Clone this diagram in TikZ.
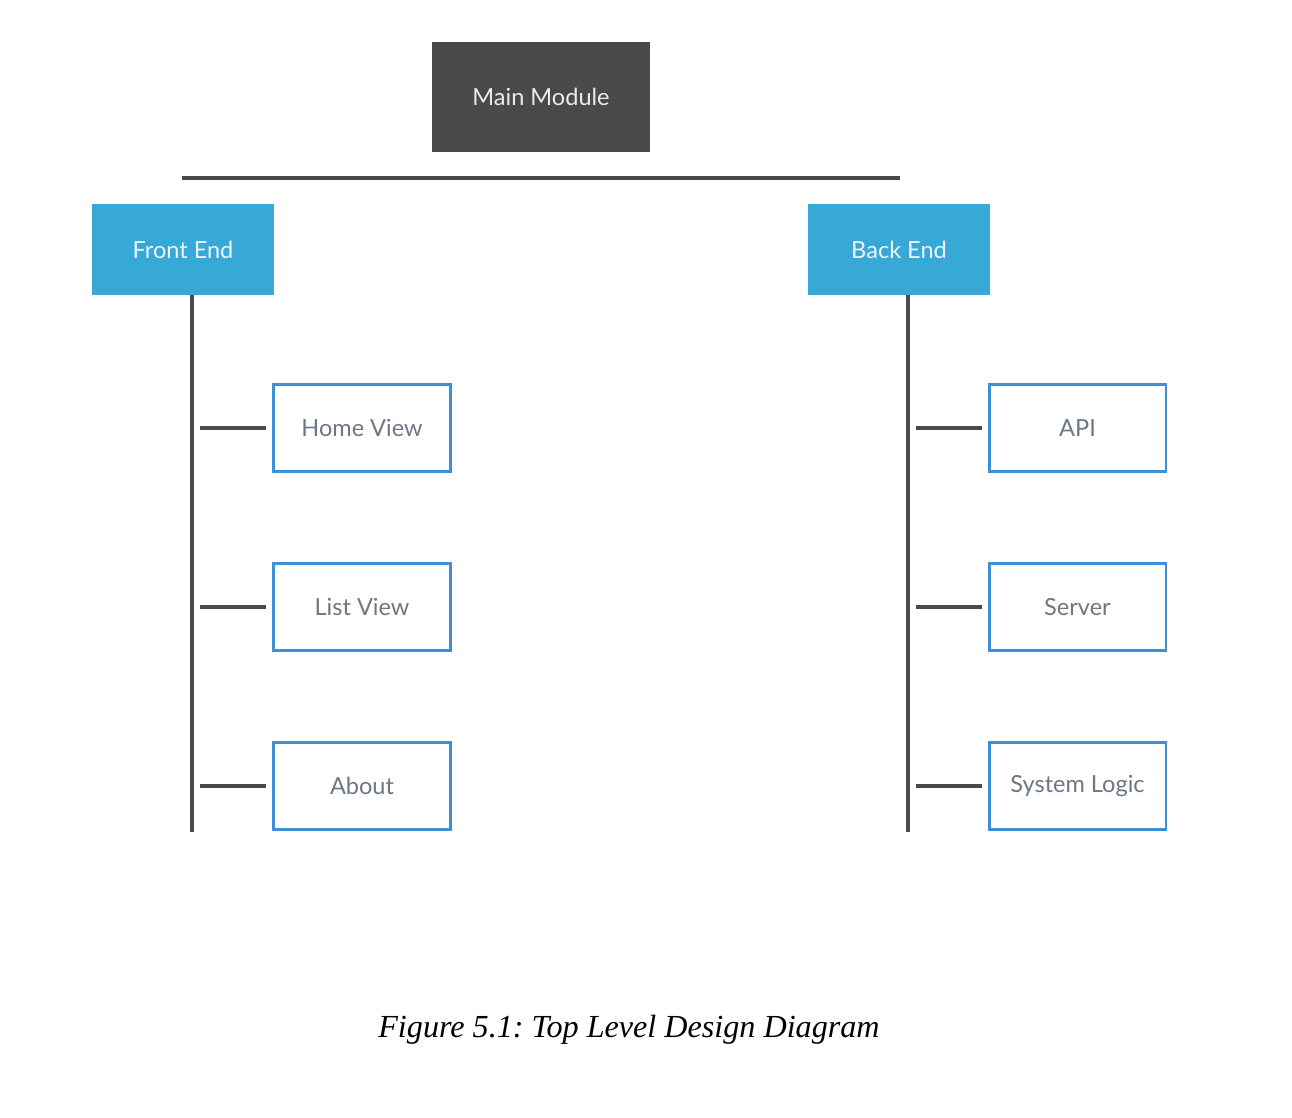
\documentclass[tikz,border=0pt]{standalone}
\usepackage{fontspec}
\setmainfont{Lato}
\newfontfamily\capfont{Liberation Serif}
\usepackage{xcolor}
\usepackage{tikz}
\frenchspacing
\definecolor{darkbox}{HTML}{4A4A4A}
\definecolor{bluebox}{HTML}{36A9D6}
\definecolor{blueline}{HTML}{3D8FD8}
\definecolor{slatetext}{HTML}{6E7785}
\tikzset{every node/.style={inner sep=0pt},
  mainbox/.style={fill=darkbox,text=white!92!black,minimum width=4.36cm,minimum height=2.2cm,font=\fontsize{13.4}{15}\selectfont},
  partbox/.style={fill=bluebox,text=white!95!blue,minimum width=3.64cm,minimum height=1.82cm,font=\fontsize{13.4}{15}\selectfont},
  leafbox/.style={draw=blueline,line width=1.7pt,fill=white,text=slatetext,minimum width=3.54cm,minimum height=1.74cm,font=\fontsize{13.4}{15}\selectfont},
  wire/.style={draw=darkbox,line width=2pt}}
\def\cn#1#2{\draw[wire,shorten <=0.16cm,shorten >=0.12cm] (#1) to (#2);}
\newcommand{\nbox}[4][]{\node[#1] (#2) at (#3) {#4};}

\begin{document}
\begin{tikzpicture}[x=0.02cm,y=-0.02cm]
    \useasboundingbox (0,0) rectangle (1292,1118);

    \nbox[mainbox]{main}{541,97}{Main Module}
    \coordinate (barL) at (182,178);
    \coordinate (barR) at (900,178);
    \draw[wire] (barL) -- (barR);

    \nbox[partbox]{front}{183,249.5}{Front End}
    \nbox[partbox]{back}{899,249.5}{Back End}

    % trunks
    \coordinate (frontEnd) at (192,832);
    \coordinate (backEnd) at (908,832);
    \draw[wire] (front.south -| frontEnd) -- (frontEnd);
    \draw[wire] (back.south -| backEnd) -- (backEnd);

    \nbox[leafbox]{home}{362,428}{Home View}
    \nbox[leafbox]{list}{362,607}{List View}
    \nbox[leafbox]{about}{362,786}{About}

    \nbox[leafbox]{api}{1077.5,428}{API}
    \nbox[leafbox]{server}{1077.5,607}{Server}
    \nbox[leafbox]{logic}{1077.5,786}{System Logic}

    \coordinate (fh) at (192,428); \cn{fh}{home.west}
    \coordinate (fl) at (192,607); \cn{fl}{list.west}
    \coordinate (fa) at (192,786); \cn{fa}{about.west}
    \coordinate (ba) at (908,428); \cn{ba}{api.west}
    \coordinate (bs) at (908,607); \cn{bs}{server.west}
    \coordinate (bl) at (908,786); \cn{bl}{logic.west}

    \nbox[font=\capfont\itshape\fontsize{18.3}{21}\selectfont]{cap}{629,1030}{Figure 5.1: Top Level Design Diagram}
\end{tikzpicture}
\end{document}
